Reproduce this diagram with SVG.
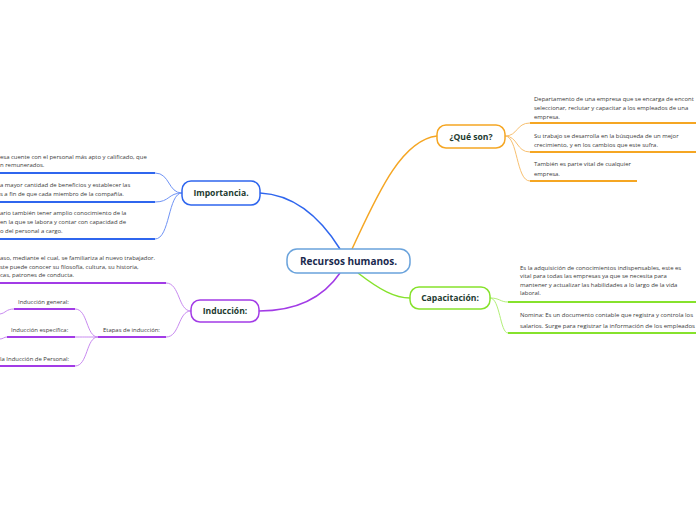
<svg xmlns="http://www.w3.org/2000/svg" width="696" height="520" viewBox="0 0 696 520">
<style>
.t{font-family:"Open Sans","Noto Sans","Liberation Sans",sans-serif;font-size:5.95px;fill:#3a3a3a}
.n{font-family:"Open Sans","Noto Sans","Liberation Sans",sans-serif;font-size:8.6px;font-weight:bold;fill:#1d3b2f;text-anchor:middle}
.c{fill:none}
.ub{stroke:#2f66ee;stroke-width:2}
.uo{stroke:#f5a623;stroke-width:2}
.ug{stroke:#86e22c;stroke-width:2}
.up{stroke:#a23be6;stroke-width:2}
</style>
<rect width="696" height="520" fill="#fff"/>
<g id="connectors" class="c">
  <path d="M340,249 C325,225 300,195 260,193" stroke="#2f66ee" stroke-width="1.5"/>
  <path d="M352,249 C375,200 400,140 437,136" stroke="#f5a623" stroke-width="1.5"/>
  <path d="M340,273 C325,295 300,311 259,311" stroke="#a23be6" stroke-width="1.5"/>
  <path d="M358,273 C380,290 395,298 410,298" stroke="#86e22c" stroke-width="1.5"/>
  <path d="M182,193 C168,193 170,173 155,173" stroke="#6f93f5"/>
  <path d="M182,193 C168,193 170,202 155,202" stroke="#6f93f5"/>
  <path d="M182,193 C168,193 170,239 155,239" stroke="#6f93f5"/>
  <path d="M505,136 C518,136 516,123 530,123" stroke="#f8c070"/>
  <path d="M505,136 C518,136 516,152 530,152" stroke="#f8c070"/>
  <path d="M505,136 C518,136 516,181 530,181" stroke="#f8c070"/>
  <path d="M490,298 C500,298 500,302 508,302" stroke="#b2ef78"/>
  <path d="M490,298 C500,298 500,333 508,333" stroke="#b2ef78"/>
  <path d="M191,311 C178,311 180,283 166,283" stroke="#c88af0"/>
  <path d="M191,311 C178,311 180,337 166,337" stroke="#c88af0"/>
  <path d="M98,337 C86,337 88,309 75,309" stroke="#c88af0"/>
  <path d="M98,337 C86,337 88,337 75,337" stroke="#c88af0"/>
  <path d="M98,337 C86,337 88,366 75,366" stroke="#c88af0"/>
  <path d="M14,309 C6,309 6,313 0,314" stroke="#c88af0"/>
  <path d="M7,337 C4,337 3,339 0,339" stroke="#c88af0"/>
</g>
<g id="central">
  <rect x="287" y="249" width="123" height="24" rx="10" fill="#fff" stroke="#6aa3dc" stroke-width="1.5"/>
  <text x="348.5" y="264.5" class="n" style="font-size:10px;fill:#1a2a4e">Recursos humanos.</text>
</g>
<g id="importancia">
  <rect x="182" y="181" width="78" height="24" rx="9" fill="#fff" stroke="#2f66ee" stroke-width="1.5"/>
  <text x="221" y="196" class="n">Importancia.</text>
</g>
<g id="imp1">
  <text class="t" x="0" y="159">esa cuente con el personal más apto y calificado, que</text>
  <text class="t" x="0" y="167">n remunerados.</text>
  <line x1="0" y1="173" x2="155" y2="173" class="ub"/>
</g>
<g id="imp2">
  <text class="t" x="0" y="187">a mayor cantidad de beneficios y establecer las</text>
  <text class="t" x="0" y="196">s a fin de que cada miembro de la compañía.</text>
  <line x1="0" y1="202" x2="155" y2="202" class="ub"/>
</g>
<g id="imp3">
  <text class="t" x="0" y="215">ario también tener amplio conocimiento de la</text>
  <text class="t" x="0" y="224"> en la que se labora y contar con capacidad de</text>
  <text class="t" x="0" y="233">o del personal a cargo.</text>
  <line x1="0" y1="239" x2="155" y2="239" class="ub"/>
</g>
<g id="queson">
  <rect x="437" y="125" width="68" height="23" rx="9" fill="#fff" stroke="#f5a623" stroke-width="1.5"/>
  <text x="471" y="139.5" class="n">¿Qué son?</text>
</g>
<g id="que1">
  <text class="t" x="534" y="101">Departamento de una empresa que se encarga de encont</text>
  <text class="t" x="534" y="110">seleccionar, reclutar y capacitar a los empleados de una</text>
  <text class="t" x="534" y="119">empresa.</text>
  <line x1="530" y1="123" x2="696" y2="123" class="uo"/>
</g>
<g id="que2">
  <text class="t" x="534" y="138">Su trabajo se desarrolla en la búsqueda de un mejor</text>
  <text class="t" x="534" y="147">crecimiento, y en los cambios que este sufra.</text>
  <line x1="530" y1="152" x2="696" y2="152" class="uo"/>
</g>
<g id="que3">
  <text class="t" x="534" y="166">También es parte vital de cualquier</text>
  <text class="t" x="534" y="176">empresa.</text>
  <line x1="530" y1="181" x2="637" y2="181" class="uo"/>
</g>
<g id="capacitacion">
  <rect x="410" y="287" width="80" height="22" rx="9" fill="#fff" stroke="#86e22c" stroke-width="1.5"/>
  <text x="450" y="301" class="n">Capacitación:</text>
</g>
<g id="cap1">
  <text class="t" x="520" y="270">Es la adquisición de conocimientos indispensables, este es</text>
  <text class="t" x="520" y="278">vital para todas las empresas ya que se necesita para</text>
  <text class="t" x="520" y="287">mantener y actualizar las habilidades a lo largo de la vida</text>
  <text class="t" x="520" y="295">laboral.</text>
  <line x1="508" y1="302" x2="696" y2="302" class="ug"/>
</g>
<g id="cap2">
  <text class="t" x="520" y="317" textLength="173" lengthAdjust="spacingAndGlyphs">Nomina: Es un documento contable que registra y controla los</text>
  <text class="t" x="520" y="328" textLength="175" lengthAdjust="spacingAndGlyphs">salarios. Surge para registrar la información de los empleados</text>
  <line x1="508" y1="333" x2="696" y2="333" class="ug"/>
</g>
<g id="induccion">
  <rect x="191" y="300" width="68" height="22" rx="9" fill="#fff" stroke="#a23be6" stroke-width="1.5"/>
  <text x="225" y="314" class="n">Inducción:</text>
</g>
<g id="ind1">
  <text class="t" x="0" y="260">aso, mediante el cual, se familiariza al nuevo trabajador.</text>
  <text class="t" x="0" y="269">ste puede conocer su filosofía, cultura, su historia,</text>
  <text class="t" x="0" y="277">cas, patrones de conducta.</text>
  <line x1="0" y1="283" x2="166" y2="283" class="up"/>
</g>
<g id="etapas">
  <text class="t" x="103" y="332">Etapas de inducción:</text>
  <line x1="98" y1="337" x2="166" y2="337" class="up"/>
</g>
<g id="general">
  <text class="t" x="18" y="304">Inducción general:</text>
  <line x1="14" y1="309" x2="75" y2="309" class="up"/>
</g>
<g id="especifica">
  <text class="t" x="11" y="332">Inducción específica:</text>
  <line x1="7" y1="337" x2="75" y2="337" class="up"/>
</g>
<g id="personal">
  <text class="t" x="0" y="361">la Inducción de Personal:</text>
  <line x1="0" y1="366" x2="75" y2="366" class="up"/>
</g>
</svg>
